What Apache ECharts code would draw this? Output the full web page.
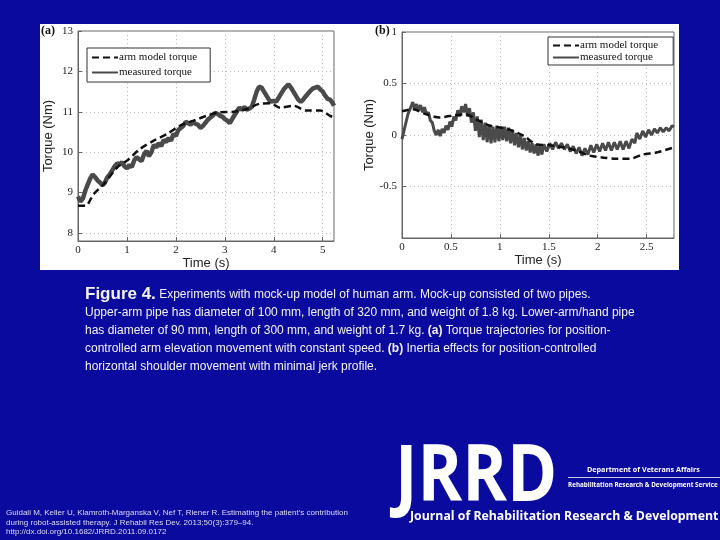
<!DOCTYPE html>
<html><head><meta charset="utf-8">
<script src="https://cdn.jsdelivr.net/npm/echarts@6/dist/echarts.min.js"></script>
<style>html,body{margin:0;padding:0;background:#0a0a9e;}#c{width:720px;height:540px;}</style>
</head><body><div id="c"></div>
<script>
// Panel (a): arm elevation, constant speed
const armModelA = [[0,8.67],[0.15,8.67],[0.32,8.96],[0.52,9.2],[0.8,9.62],[1.0,9.79],[1.27,10.08],[1.54,10.28],[1.82,10.45],[2.09,10.66],[2.36,10.78],[2.63,10.9],[2.9,10.99],[3.18,11.0],[3.45,11.07],[3.72,11.2],[3.93,11.21],[4.13,11.1],[4.4,11.15],[4.67,11.03],[4.95,11.03],[5.15,10.9],[5.23,10.86]];
const measuredA = [[0,8.9],[0.05,8.78],[0.1,8.85],[0.15,9.05],[0.2,9.2],[0.25,9.35],[0.3,9.45],[0.35,9.38],[0.4,9.3],[0.45,9.25],[0.5,9.18],[0.55,9.25],[0.6,9.38],[0.65,9.45],[0.7,9.55],[0.75,9.65],[0.8,9.72],[0.85,9.7],[0.9,9.75],[0.95,9.65],[1.0,9.6],[1.05,9.68],[1.1,9.63],[1.15,9.8],[1.2,9.88],[1.25,9.82],[1.3,9.78],[1.35,9.95],[1.4,10.03],[1.45,9.9],[1.5,10.0],[1.55,10.18],[1.6,10.12],[1.65,10.22],[1.7,10.15],[1.75,10.3],[1.8,10.25],[1.85,10.35],[1.9,10.28],[1.95,10.45],[2.0,10.4],[2.05,10.55],[2.1,10.6],[2.15,10.65],[2.2,10.75],[2.25,10.72],[2.3,10.68],[2.35,10.75],[2.4,10.7],[2.45,10.68],[2.5,10.6],[2.55,10.65],[2.6,10.72],[2.65,10.8],[2.7,10.85],[2.75,10.9],[2.8,10.97],[2.85,10.95],[2.9,10.9],[2.95,10.88],[3.0,10.82],[3.05,10.78],[3.1,10.72],[3.15,10.82],[3.2,10.92],[3.25,11.02],[3.3,11.1],[3.35,11.05],[3.4,11.12],[3.45,11.05],[3.5,11.08],[3.55,11.12],[3.6,11.3],[3.65,11.5],[3.7,11.62],[3.75,11.6],[3.8,11.5],[3.85,11.4],[3.9,11.3],[3.95,11.25],[4.0,11.27],[4.05,11.25],[4.1,11.35],[4.15,11.45],[4.2,11.55],[4.25,11.62],[4.3,11.68],[4.35,11.6],[4.4,11.5],[4.45,11.4],[4.5,11.3],[4.55,11.25],[4.6,11.3],[4.65,11.38],[4.7,11.45],[4.75,11.52],[4.8,11.58],[4.85,11.6],[4.9,11.62],[4.95,11.55],[5.0,11.5],[5.05,11.4],[5.1,11.32],[5.15,11.3],[5.2,11.22],[5.23,11.15]];
// Panel (b): horizontal shoulder movement, minimal jerk
const armModelB = [[0,0.23],[0.11,0.25],[0.25,0.2],[0.385,0.17],[0.52,0.19],[0.66,0.2],[0.76,0.15],[0.9,0.09],[1.07,0.06],[1.24,-0.006],[1.37,-0.09],[1.51,-0.1],[1.65,-0.12],[1.78,-0.15],[1.92,-0.2],[2.06,-0.22],[2.19,-0.23],[2.33,-0.23],[2.46,-0.19],[2.6,-0.17],[2.78,-0.12]];
const measuredB = [[0,-0.04],[0.03,0.08],[0.06,0.2],[0.09,0.27],[0.11,0.32],[0.13,0.25],[0.15,0.3],[0.17,0.24],[0.19,0.29],[0.21,0.22],[0.23,0.27],[0.25,0.2],[0.27,0.22],[0.29,0.14],[0.31,0.12],[0.33,0.04],[0.35,0.0],[0.37,0.05],[0.39,-0.01],[0.41,0.06],[0.43,0.02],[0.45,0.09],[0.47,0.05],[0.49,0.13],[0.51,0.08],[0.53,0.18],[0.55,0.14],[0.57,0.24],[0.59,0.18],[0.61,0.28],[0.63,0.22],[0.65,0.3],[0.67,0.18],[0.69,0.26],[0.71,0.12],[0.73,0.22],[0.75,0.04],[0.77,0.18],[0.79,-0.02],[0.81,0.15],[0.83,-0.05],[0.85,0.12],[0.87,-0.07],[0.89,0.1],[0.91,-0.08],[0.93,0.08],[0.95,-0.07],[0.97,0.09],[0.99,-0.06],[1.01,0.08],[1.03,-0.05],[1.05,0.08],[1.07,-0.06],[1.09,0.07],[1.11,-0.08],[1.13,0.05],[1.15,-0.1],[1.17,0.02],[1.19,-0.12],[1.21,0.0],[1.23,-0.14],[1.25,-0.03],[1.27,-0.15],[1.29,-0.06],[1.31,-0.17],[1.33,-0.08],[1.35,-0.18],[1.37,-0.09],[1.39,-0.2],[1.41,-0.1],[1.43,-0.19],[1.45,-0.09],[1.48,-0.16],[1.51,-0.08],[1.54,-0.14],[1.57,-0.07],[1.6,-0.13],[1.63,-0.08],[1.66,-0.14],[1.69,-0.09],[1.72,-0.16],[1.75,-0.11],[1.78,-0.18],[1.81,-0.12],[1.84,-0.2],[1.87,-0.13],[1.9,-0.19],[1.93,-0.1],[1.96,-0.17],[1.99,-0.09],[2.02,-0.16],[2.05,-0.08],[2.08,-0.15],[2.11,-0.07],[2.14,-0.15],[2.17,-0.07],[2.2,-0.14],[2.23,-0.06],[2.26,-0.14],[2.29,-0.06],[2.32,-0.13],[2.35,-0.04],[2.38,-0.08],[2.4,0.02],[2.43,-0.04],[2.46,0.04],[2.49,-0.02],[2.52,0.05],[2.55,0.0],[2.58,0.06],[2.61,0.02],[2.64,0.07],[2.67,0.03],[2.7,0.07],[2.73,0.04],[2.76,0.09],[2.78,0.08]];
const yTicksA = [8,9,10,11,12,13];
const seriesNames = ['arm model torque','measured torque'];
const captionLines = [
  '{f|Figure 4.} Experiments with mock-up model of human arm. Mock-up consisted of two pipes.',
  'Upper-arm pipe has diameter of 100 mm, length of 320 mm, and weight of 1.8 kg. Lower-arm/hand pipe',
  'has diameter of 90 mm, length of 300 mm, and weight of 1.7 kg. {b|(a)} Torque trajectories for position-',
  'controlled arm elevation movement with constant speed. {b|(b)} Inertia effects for position-controlled',
  'horizontal shoulder movement with minimal jerk profile.'
];
const citationLines = [
  'Guidali M, Keller U, Klamroth-Marganska V, Nef T, Riener R. Estimating the patient\u2019s contribution',
  'during robot-assisted therapy. J Rehabil Res Dev. 2013;50(3):379\u201394.',
  'http://dx.doi.org/10.1682/JRRD.2011.09.0172'
];

const serif = '"Liberation Serif","DejaVu Serif",serif';
const sans = '"Liberation Sans",Arial,sans-serif';
const axisCommon = {
  axisLine:{show:true,onZero:false,lineStyle:{color:'#666',width:1}},
  axisTick:{show:true,inside:true,length:4,lineStyle:{color:'#666'}},
  splitLine:{show:true,lineStyle:{color:'#bbb',type:[1,3],width:1}},
  axisLabel:{color:'#222',fontFamily:serif,fontSize:11},
  nameTextStyle:{color:'#222',fontFamily:sans,fontSize:13}
};
function ax(extra){ return Object.assign({}, JSON.parse(JSON.stringify(axisCommon)), extra); }

const graphics = [
  {type:'rect',shape:{x:40,y:24,width:639,height:246},style:{fill:'#fff'},z:-10},
  {type:'text',left:41,top:25,style:{text:'(a)',font:'bold 12px '+serif,fill:'#111'}},
  {type:'text',left:375,top:25,style:{text:'(b)',font:'bold 12px '+serif,fill:'#111'}}
];
const capTops = [286,307,325,343,361];
captionLines.forEach((t,i)=>{
  graphics.push({type:'text',left:85,top:capTops[i],style:{text:t,font:'12px '+sans,fill:'#f2f2f2',
    rich:{f:{font:'bold 17px '+sans,fill:'#f2f2f2',verticalAlign:'bottom'},b:{font:'bold 12px '+sans,fill:'#f2f2f2'}}}});
});
citationLines.forEach((t,i)=>{
  graphics.push({type:'text',left:6,top:509+i*9.6,style:{text:t,font:'8px '+sans,fill:'#dcdcf0'}});
});
graphics.push(
  {type:'text',x:395,y:440,scaleX:0.87,style:{text:'JRRD',font:'bold 78px "Open Sans",'+sans,fill:'#fff'}},
  {type:'text',left:587,top:466,style:{text:'Department of Veterans Affairs',font:'bold 7.2px "Open Sans",'+sans,fill:'#fff'}},
  {type:'line',shape:{x1:568,y1:477.5,x2:720,y2:477.5},style:{stroke:'#c8c8e8',lineWidth:1}},
  {type:'text',left:568,top:482,style:{text:'Rehabilitation Research & Development Service',font:'bold 6.3px "Open Sans",'+sans,fill:'#fff'}},
  {type:'text',left:410,top:510,style:{text:'Journal of Rehabilitation Research & Development',font:'bold 12.3px "Open Sans",'+sans,fill:'#fff'}}
);

const legendCommon = {orient:'vertical',itemWidth:26,itemHeight:8,backgroundColor:'#fff',borderColor:'#333',borderWidth:1,
  itemStyle:{color:'rgba(0,0,0,0)',borderColor:'rgba(0,0,0,0)',borderWidth:0},
  textStyle:{fontFamily:serif,fontSize:11,color:'#111',padding:[0,0,0,-4]},data:seriesNames};

const option = {
  backgroundColor:'#0a0a9e',
  animation:false,
  graphic:graphics,
  grid:[
    {left:78,top:31,width:256,height:210,show:true,borderColor:'#666',borderWidth:1,backgroundColor:'#fff'},
    {left:402,top:32,width:272,height:206,show:true,borderColor:'#666',borderWidth:1,backgroundColor:'#fff'}
  ],
  legend:[
    Object.assign({},legendCommon,{left:87,top:48,itemGap:4,padding:[4,13,4,4]}),
    Object.assign({},legendCommon,{left:548,top:37,itemGap:1,padding:[3,15,2,4]})
  ],
  xAxis:[
    ax({gridIndex:0,type:'value',min:0,max:5.23,interval:1,name:'Time (s)',nameLocation:'middle',nameGap:14,
        axisLabel:Object.assign({},axisCommon.axisLabel,{margin:4,showMaxLabel:false})}),
    ax({gridIndex:1,type:'value',min:0,max:2.78,interval:0.5,name:'Time (s)',nameLocation:'middle',nameGap:16,
        axisLabel:Object.assign({},axisCommon.axisLabel,{margin:4,showMaxLabel:false})})
  ],
  yAxis:[
    ax({gridIndex:0,type:'value',min:7.8,max:13,name:'Torque (Nm)',nameLocation:'middle',nameGap:23,
        axisLabel:Object.assign({},axisCommon.axisLabel,{margin:5,customValues:yTicksA}),
        axisTick:Object.assign({},axisCommon.axisTick,{customValues:yTicksA})}),
    ax({gridIndex:1,type:'value',min:-1,max:1,interval:0.5,name:'Torque (Nm)',nameLocation:'middle',nameGap:21,
        axisLabel:Object.assign({},axisCommon.axisLabel,{margin:5,showMinLabel:false})})
  ],
  series:[
    {name:seriesNames[0],type:'line',xAxisIndex:0,yAxisIndex:0,data:armModelA,symbol:'none',smooth:0.3,z:3,
      lineStyle:{color:'#111',width:2.5,type:[7,4]},itemStyle:{color:'#111'}},
    {name:seriesNames[1],type:'line',xAxisIndex:0,yAxisIndex:0,data:measuredA,symbol:'none',z:2,
      lineStyle:{color:'#4a4a4a',width:4.5},itemStyle:{color:'#4a4a4a'}},
    {name:seriesNames[0],type:'line',xAxisIndex:1,yAxisIndex:1,data:armModelB,symbol:'none',smooth:0.3,z:3,
      lineStyle:{color:'#111',width:2.5,type:[7,4]},itemStyle:{color:'#111'}},
    {name:seriesNames[1],type:'line',xAxisIndex:1,yAxisIndex:1,data:measuredB,symbol:'none',z:2,
      lineStyle:{color:'#4a4a4a',width:3},itemStyle:{color:'#4a4a4a'}}
  ]
};
const chart = echarts.init(document.getElementById('c'),null,{renderer:'canvas'});
chart.setOption(option);
</script></body></html>
